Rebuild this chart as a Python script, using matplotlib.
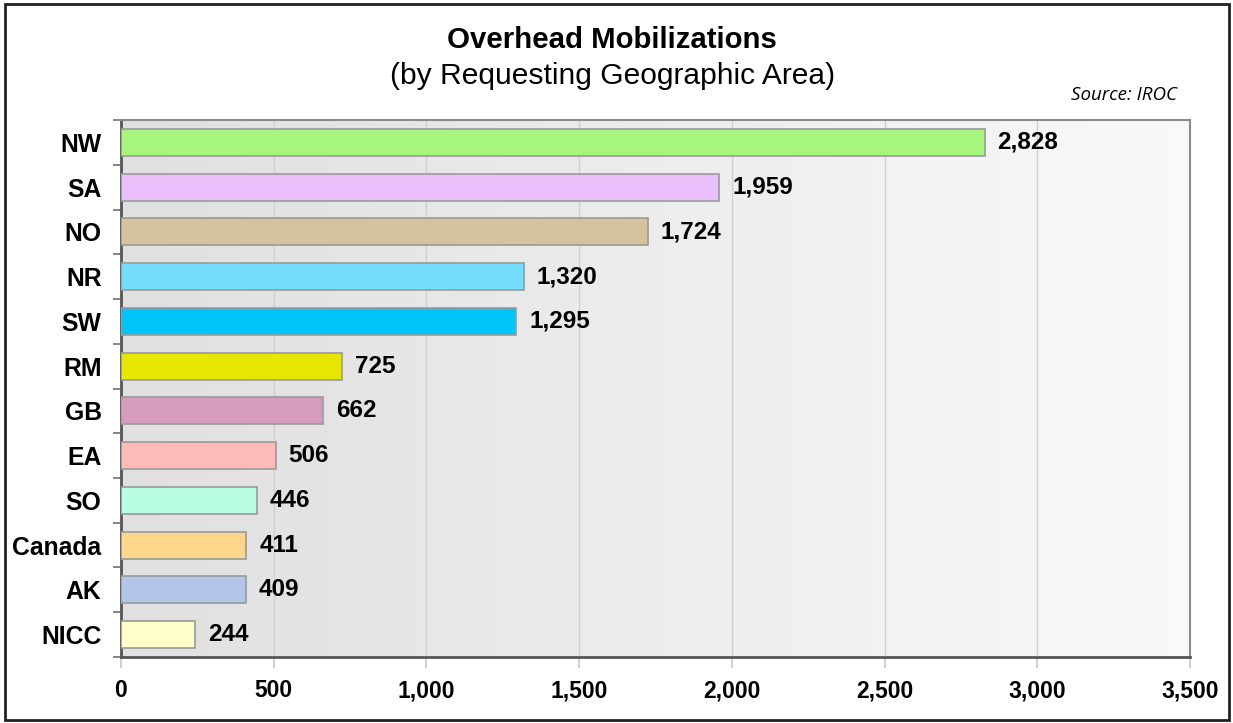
import numpy as np
import matplotlib.pyplot as plt
from matplotlib.patches import Rectangle

# Data
areas = ["NW", "SA", "NO", "NR", "SW", "RM", "GB", "EA", "SO", "Canada", "AK", "NICC"]
mobilizations = [2828, 1959, 1724, 1320, 1295, 725, 662, 506, 446, 411, 409, 244]
bar_colors = ["#a6f57c", "#e9bffc", "#d5c39d", "#74ddfb", "#00c5fb", "#e6e600",
              "#d59cbe", "#ffbaba", "#b8fde2", "#ffd78a", "#b3c6e8", "#ffffcc"]
x_ticks = [0, 500, 1000, 1500, 2000, 2500, 3000, 3500]

plt.rcParams["font.family"] = ["Liberation Sans", "DejaVu Sans"]

fig = plt.figure(figsize=(12.33, 7.23), dpi=100)
ax = fig.add_axes([0.0981, 0.0913, 0.8670, 0.7427])

# horizontal grey-to-white gradient background
grad = np.linspace(0.875, 0.975, 256).reshape(1, -1)
ax.imshow(grad, cmap="gray", vmin=0, vmax=1, aspect="auto",
          extent=(0, 1, 0, 1), transform=ax.transAxes, zorder=0)

y = np.arange(len(areas))
ax.barh(y, mobilizations, height=0.6, color=bar_colors,
        edgecolor="#9a9a9a", linewidth=1.2, zorder=3)

for yi, v in zip(y, mobilizations):
    ax.text(v + 42, yi, f"{v:,}", va="center", ha="left",
            fontsize=17.5, fontweight="bold", zorder=4)

ax.set_xlim(0, 3500)
ax.set_ylim(len(areas) - 0.5, -0.5)
ax.set_xticks(x_ticks)
ax.set_xticklabels([f"{t:,}" for t in x_ticks], fontsize=16.5, fontweight="bold")
ax.set_yticks(y)
ax.set_yticklabels(areas, fontsize=17.8, fontweight="bold")
ax.set_yticks(np.arange(len(areas) + 1) - 0.5, minor=True)
ax.tick_params(axis="y", which="major", length=0, pad=14)
ax.tick_params(axis="y", which="minor", length=6, color="#707070", width=1.2)
ax.tick_params(axis="x", length=8, color="#c8c8c8", width=1.2, pad=8)
ax.grid(axis="x", color="#d0d0d0", linewidth=1.0, zorder=1)
ax.set_axisbelow(True)

for side in ["left", "bottom"]:
    ax.spines[side].set_color("#555555")
    ax.spines[side].set_linewidth(2)
for side in ["top", "right"]:
    ax.spines[side].set_color("#8a8a8a")
    ax.spines[side].set_linewidth(1.5)

fig.text(0.4965, 0.945, "Overhead Mobilizations", ha="center", va="center",
         fontsize=21.2, fontweight="bold")
fig.text(0.4965, 0.895, "(by Requesting Geographic Area)", ha="center", va="center",
         fontsize=21.6)
fig.text(0.9546, 0.868, "Source: IROC", ha="right", va="center",
         fontsize=13.5, style="italic", family=["Open Sans", "DejaVu Sans"])

# outer frame
fig.patches.append(Rectangle((0.004, 0.004), 0.993, 0.991, transform=fig.transFigure,
                             fill=False, edgecolor="#222222", linewidth=2))

fig.savefig("out.png", dpi=100)
